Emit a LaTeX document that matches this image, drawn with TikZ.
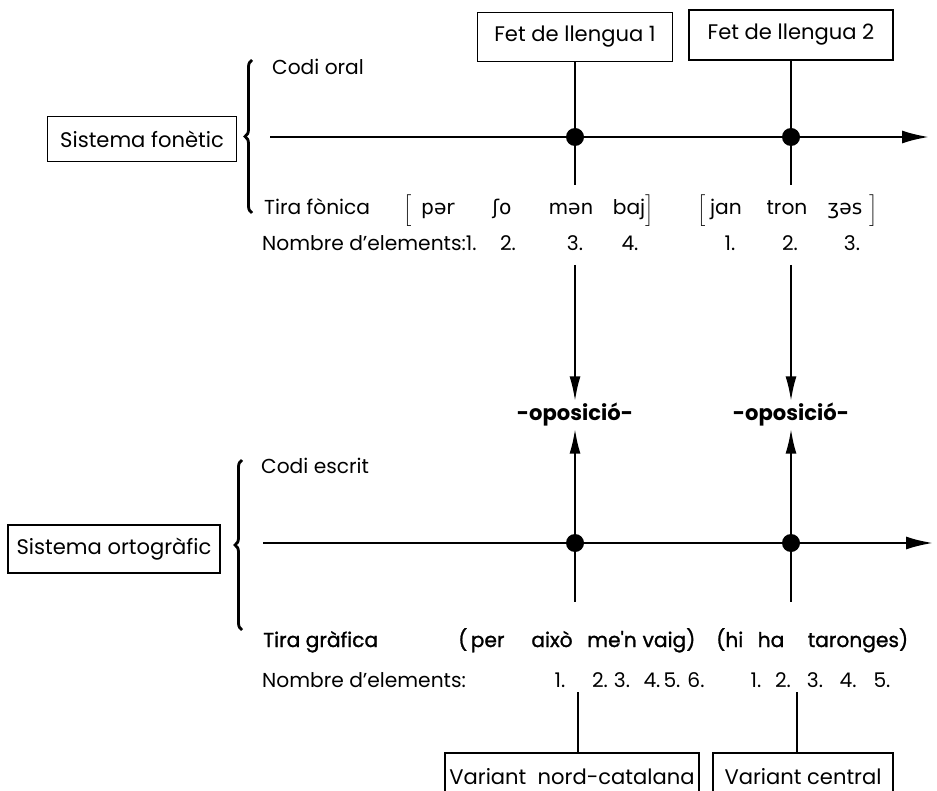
\documentclass[tikz,border=0pt]{standalone}
\usepackage{fontspec}
\setmainfont{Poppins}
\newfontfamily\ipafont{DejaVu Sans}
\newfontfamily\medfont{Poppins}[FakeBold=1.2]
\usetikzlibrary{arrows.meta, decorations.pathreplacing}

\tikzset{
  boxlabel/.style={draw, line width=1.1pt, inner sep=2pt, font=\fontsize{12}{14}\selectfont},
  timeline/.style={line width=1.3pt, -{Latex[length=5.4mm,width=2.6mm]}},
  event/.style={circle, fill, inner sep=0pt, minimum size=3.6mm},
  stem/.style={line width=1.3pt},
  opp/.style={line width=1.3pt, -{Latex[length=5mm,width=2.2mm]}},
  curly/.style={decorate, decoration={brace, amplitude=1.4mm}, line width=1.6pt},
  oppword/.style={font=\fontsize{12}{14}\selectfont\bfseries, inner ysep=1pt},
}

\begin{document}
\begin{tikzpicture}[x=0.2mm, y=-0.2mm, font=\fontsize{11.5}{14}\selectfont]
\useasboundingbox (0,0) rectangle (937,791);
\clip (0,0) rectangle (937,791);

% Upper half: phonetic system
\node[boxlabel, minimum width=39mm, minimum height=9.8mm] (fet1) at (575,37) {Fet de llengua 1};
\node[boxlabel, minimum width=40.8mm, minimum height=10mm] (fet2) at (791,35) {Fet de llengua 2};
\node[boxlabel, minimum width=37.8mm, minimum height=9mm] (fon) at (142,139) {Sistema fonètic};
\draw[curly] (252,213) -- (252,60);
\node[anchor=base west] (oral) at (266,75) {Codi oral};
\coordinate (fonA) at (270,137);
\coordinate (fonB) at (929,137);
\draw[timeline] (fonA) -- (fonB);
\node[event] (pf1) at (575,137) {};
\node[event] (pf2) at (791,137) {};
\coordinate (sf1) at (575,185);
\coordinate (sf2) at (791,185);
\draw[stem] (fet1) -- (sf1);
\draw[stem] (fet2) -- (sf2);

% phonetic strip and its count
\node[anchor=base west] (tiraF) at (258,215) {Tira fònica};
\node[inner sep=0pt] (brA) at (408,211) {$\Big[$};
\node[anchor=base] (wA) at (438,215) {\ipafont pər};
\node[anchor=base] (wB) at (502,215) {\ipafont ʃo};
\node[anchor=base] (wC) at (571,215) {\ipafont mən};
\node[anchor=base] (wD) at (629,215) {baj};
\node[inner sep=0pt] (brB) at (650,211) {$\Big]$};
\node[inner sep=0pt] (brC) at (702,211) {$\Big[$};
\node[anchor=base] (wE) at (726,215) {jan};
\node[anchor=base] (wF) at (787,215) {tron};
\node[anchor=base] (wG) at (845,215) {\ipafont ʒəs};
\node[inner sep=0pt] (brD) at (874,211) {$\Big]$};
\node[anchor=base west] (nomF) at (256,251) {Nombre d'elements:1.};
\node[anchor=base] (nf2) at (508,251) {2.};
\node[anchor=base] (nf3) at (575,251) {3.};
\node[anchor=base] (nf4) at (630,251) {4.};
\node[anchor=base] (nf5) at (730,251) {1.};
\node[anchor=base] (nf6) at (790,251) {2.};
\node[anchor=base] (nf7) at (852,251) {3.};

% oppositions between both codes
\node[oppword] (op1) at (575,415) {-oposició-};
\node[oppword] (op2) at (791,415) {-oposició-};
\coordinate (df1) at (575,265);
\coordinate (df2) at (791,265);
\draw[opp] (df1) -- (op1);
\draw[opp] (df2) -- (op2);

% Lower half: spelling system
\node[boxlabel, minimum width=42.4mm, minimum height=9.6mm] (ort) at (114,549) {Sistema ortogràfic};
\draw[curly] (242,630) -- (242,460);
\node[anchor=base west] (escrit) at (255,473) {Codi escrit};
\coordinate (ortA) at (263,543);
\coordinate (ortB) at (933,543);
\draw[timeline] (ortA) -- (ortB);
\node[event] (po1) at (575,543) {};
\node[event] (po2) at (791,543) {};
\draw[opp] (po1) -- (op1);
\draw[opp] (po2) -- (op2);
\coordinate (so1) at (575,602);
\coordinate (so2) at (791,602);
\draw[stem] (po1) -- (so1);
\draw[stem] (po2) -- (so2);

% written strip and its count
\node[anchor=base west] (tiraG) at (257,647) {\medfont Tira gràfica};
\node[anchor=base west] (vA) at (452,647) {\medfont (\,per};
\node[anchor=base] (vB) at (552,647) {\medfont això};
\node[anchor=base] (vC) at (612,647) {\medfont me'n};
\node[anchor=base] (vD) at (669,647) {\medfont vaig)};
\node[anchor=base west] (vE) at (710,647) {\medfont (hi};
\node[anchor=base] (vF) at (771,647) {\medfont ha};
\node[anchor=base] (vG) at (858,647) {\medfont taronges)};
\node[anchor=base west] (nomG) at (256,687) {Nombre d'elements:};
\node[anchor=base] (ng1) at (560,687) {1.};
\node[anchor=base] (ng2) at (600,687) {2.};
\node[anchor=base] (ng3) at (622,687) {3.};
\node[anchor=base] (ng4) at (652,687) {4.};
\node[anchor=base] (ng5) at (672,687) {5.};
\node[anchor=base] (ng6) at (696,687) {6.};
\node[anchor=base] (ng7) at (756,687) {1.};
\node[anchor=base] (ng8) at (783,687) {2.};
\node[anchor=base] (ng9) at (815,687) {3.};
\node[anchor=base] (ng10) at (848,687) {4.};
\node[anchor=base] (ng11) at (882,687) {5.};

% regional variants
\node[boxlabel, minimum width=50.8mm, minimum height=9.6mm] (var1) at (572,777) {Variant\ \ nord-catalana};
\node[boxlabel, minimum width=36mm, minimum height=9.6mm] (var2) at (803,777) {Variant central};
\coordinate (lo1) at (578,692);
\coordinate (lo2) at (797,692);
\draw[stem] (lo1) -- (lo1 |- var1.north);
\draw[stem] (lo2) -- (lo2 |- var2.north);

\end{tikzpicture}
\end{document}
